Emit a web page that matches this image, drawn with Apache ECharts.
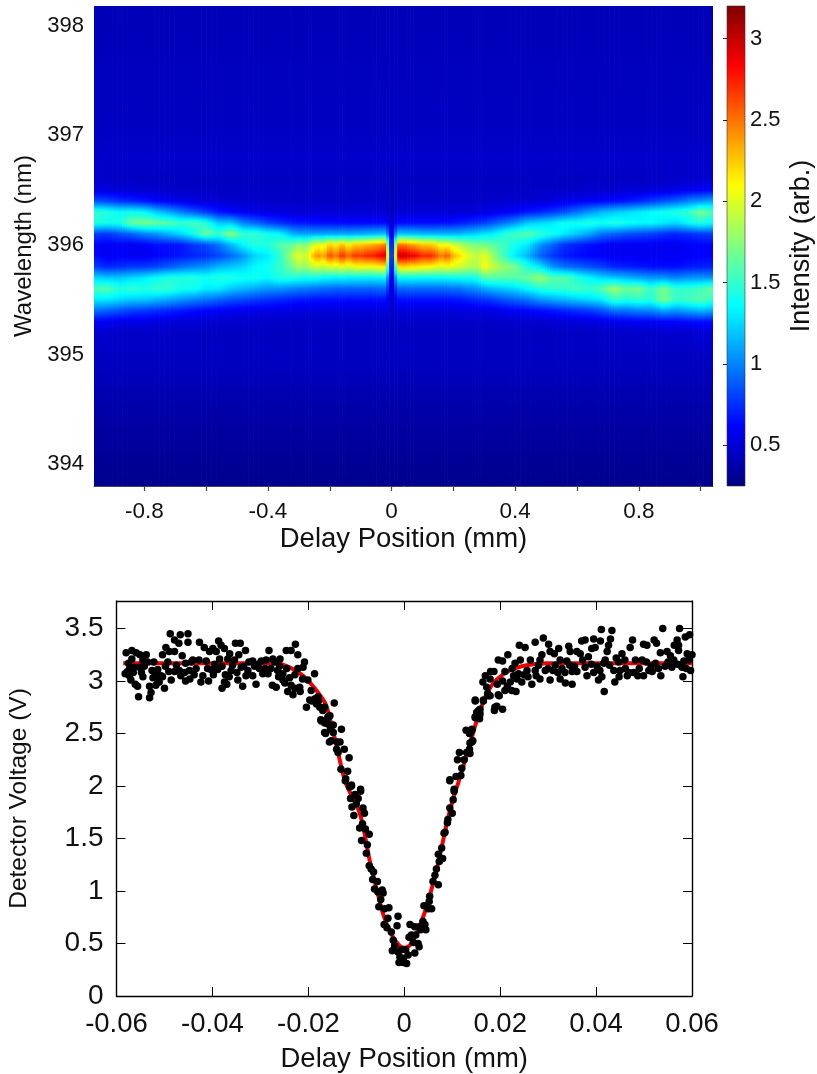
<!DOCTYPE html>
<html><head><meta charset="utf-8">
<style>html,body{margin:0;padding:0;background:#fff}#c{width:817px;height:1074px}</style>
<script src="https://cdn.jsdelivr.net/npm/echarts@6/dist/echarts.min.js"></script>
</head><body><div id="c"></div>
<script>
// ---- Top panel: spectrogram ----
const delayTicks=[-0.8,-0.6,-0.4,-0.2,0,0.2,0.4,0.6,0.8,1];
const delayLabels=[-0.8,-0.4,0,0.4,0.8];
const wavelengthTicks=[394,394.5,395,395.5,396,396.5,397,397.5,398];
const wavelengthLabels=[394,395,396,397,398];
const colorbarTicks=[0.5,1,1.5,2,2.5,3];
const colorbarRange=[0.25,3.2];
const wavelengthsBelow=[393.8,394.5,395.0];
const intensityBelow=[0.29,0.37,0.45];
const wavelengthsBand=[395.2,395.3,395.4,395.5,395.6,395.7,395.8,395.9,396.0,396.1,396.2,396.3,396.4,396.5,396.6];
const wavelengthsAbove=[396.8,397.0,398.18];
const intensityAbove=[0.47,0.45,0.41];
// each row: delay position, then the intensity at each of wavelengthsBand
const heatColumns=[
[-0.963,.48,.60,.95,1.30,1.55,1.25,.80,.65,.62,.80,1.45,1.50,.85,.55,.48],
[-0.92,.48,.58,.90,1.30,1.60,1.20,.72,.58,.58,.78,1.40,1.45,.82,.52,.46],
[-0.88,.46,.56,.85,1.25,1.45,1.20,.75,.60,.60,.85,1.42,1.38,.75,.50,.45],
[-0.84,.46,.55,.80,1.20,1.50,1.25,.78,.58,.58,.90,1.65,1.40,.72,.50,.45],
[-0.80,.46,.55,.78,1.20,1.45,1.30,.78,.58,.60,1.00,1.70,1.35,.68,.48,.45],
[-0.76,.46,.53,.75,1.15,1.50,1.38,.82,.62,.65,1.05,1.65,1.20,.62,.48,.45],
[-0.72,.45,.52,.72,1.10,1.50,1.45,.88,.65,.65,1.15,1.60,1.10,.58,.47,.44],
[-0.68,.45,.50,.68,1.05,1.40,1.45,.95,.68,.68,1.25,1.50,.98,.55,.46,.44],
[-0.64,.45,.50,.65,1.00,1.40,1.45,1.00,.72,.78,1.40,1.55,.88,.52,.46,.44],
[-0.60,.44,.50,.62,.95,1.30,1.40,1.05,.75,.82,1.65,1.45,.78,.50,.46,.44],
[-0.56,.44,.48,.60,.90,1.30,1.45,1.15,.82,.95,1.50,1.20,.68,.50,.45,.44],
[-0.52,.44,.48,.58,.85,1.20,1.45,1.20,.92,1.15,1.75,1.20,.62,.48,.45,.44],
[-0.48,.44,.48,.56,.82,1.15,1.40,1.25,1.05,1.35,1.50,1.00,.58,.47,.45,.44],
[-0.44,.44,.47,.55,.78,1.10,1.40,1.35,1.25,1.45,1.50,.92,.55,.47,.45,.44],
[-0.40,.44,.47,.55,.75,1.05,1.35,1.40,1.30,1.45,1.40,.82,.53,.46,.45,.44],
[-0.36,.44,.46,.54,.72,1.05,1.45,1.50,1.50,1.60,1.35,.75,.52,.46,.45,.44],
[-0.32,.44,.46,.53,.70,1.00,1.45,1.70,1.85,1.65,1.15,.70,.50,.46,.45,.44],
[-0.30,.44,.46,.53,.68,.98,1.42,1.85,2.05,1.80,1.10,.68,.50,.46,.45,.44],
[-0.28,.44,.46,.52,.68,.98,1.40,1.75,1.90,1.70,1.10,.68,.50,.46,.45,.44],
[-0.26,.44,.46,.52,.66,.95,1.40,1.90,2.20,1.90,1.10,.66,.50,.46,.45,.44],
[-0.24,.44,.46,.52,.66,.95,1.40,1.95,2.45,2.05,1.10,.66,.50,.46,.45,.44],
[-0.22,.44,.46,.52,.66,.92,1.35,1.90,2.30,2.00,1.10,.65,.50,.46,.45,.44],
[-0.20,.44,.46,.52,.66,.92,1.35,2.00,2.65,2.25,1.12,.65,.50,.46,.45,.44],
[-0.18,.44,.46,.52,.66,.90,1.32,1.95,2.45,2.10,1.10,.64,.50,.46,.45,.44],
[-0.16,.44,.46,.52,.65,.90,1.35,2.05,2.75,2.30,1.12,.64,.50,.46,.45,.44],
[-0.14,.44,.46,.52,.65,.90,1.32,1.95,2.50,2.10,1.10,.64,.50,.46,.45,.44],
[-0.12,.44,.46,.52,.65,.90,1.32,2.05,2.70,2.25,1.12,.64,.50,.46,.45,.44],
[-0.10,.44,.46,.52,.65,.90,1.32,2.05,2.65,2.25,1.12,.64,.50,.46,.45,.44],
[-0.08,.44,.46,.52,.65,.90,1.32,2.05,2.75,2.30,1.15,.64,.50,.46,.45,.44],
[-0.06,.44,.46,.52,.65,.90,1.32,2.05,2.75,2.35,1.15,.64,.50,.46,.45,.44],
[-0.04,.44,.46,.52,.66,.92,1.32,2.10,2.85,2.40,1.18,.64,.50,.46,.45,.44],
[-0.018,.44,.46,.52,.66,.92,1.35,2.15,2.95,2.50,1.20,.65,.50,.46,.45,.44],
[-0.008,.44,.45,.50,.55,.60,.75,1.00,1.20,1.05,.75,.55,.46,.44,.43,.43],
[0,.42,.42,.42,.42,.42,.42,.42,.42,.42,.42,.42,.42,.42,.42,.42],
[0.008,.44,.45,.50,.55,.60,.75,1.00,1.20,1.05,.75,.55,.46,.44,.43,.43],
[0.018,.44,.46,.52,.66,.92,1.35,2.15,2.95,2.50,1.20,.65,.50,.46,.45,.44],
[0.04,.44,.46,.52,.66,.92,1.35,2.20,3.00,2.50,1.20,.65,.50,.46,.45,.44],
[0.06,.44,.46,.52,.66,.92,1.35,2.15,2.90,2.40,1.18,.65,.50,.46,.45,.44],
[0.08,.44,.46,.52,.66,.92,1.35,2.15,2.85,2.35,1.18,.65,.50,.46,.45,.44],
[0.10,.44,.46,.52,.66,.92,1.35,2.10,2.70,2.25,1.15,.65,.50,.46,.45,.44],
[0.12,.44,.46,.52,.66,.92,1.35,2.10,2.75,2.25,1.15,.65,.50,.46,.45,.44],
[0.14,.44,.46,.52,.66,.92,1.35,2.05,2.65,2.20,1.15,.65,.50,.46,.45,.44],
[0.16,.44,.46,.52,.66,.92,1.35,2.00,2.45,2.05,1.15,.66,.50,.46,.45,.44],
[0.18,.44,.46,.52,.66,.92,1.35,2.05,2.60,2.10,1.15,.66,.50,.46,.45,.44],
[0.20,.44,.46,.52,.68,.95,1.38,2.00,2.30,1.95,1.15,.68,.50,.46,.45,.44],
[0.22,.44,.46,.53,.68,.95,1.38,1.95,2.20,1.90,1.15,.70,.50,.46,.45,.44],
[0.24,.44,.46,.53,.70,1.00,1.40,1.90,2.05,1.80,1.20,.72,.50,.46,.45,.44],
[0.26,.44,.46,.54,.72,1.02,1.40,1.85,1.95,1.75,1.20,.75,.52,.46,.45,.44],
[0.28,.44,.46,.54,.74,1.05,1.45,1.85,1.90,1.70,1.25,.78,.52,.47,.45,.44],
[0.30,.44,.46,.55,.76,1.10,1.60,2.10,2.05,1.70,1.30,.80,.54,.47,.45,.44],
[0.32,.44,.46,.55,.78,1.15,1.60,1.95,1.85,1.65,1.30,.85,.55,.47,.45,.44],
[0.36,.44,.47,.58,.85,1.20,1.60,1.80,1.55,1.55,1.45,.95,.58,.47,.45,.44],
[0.40,.44,.47,.60,.90,1.25,1.60,1.70,1.30,1.40,1.55,1.05,.62,.48,.45,.44],
[0.44,.44,.48,.62,.95,1.35,1.65,1.45,1.15,1.30,1.60,1.20,.68,.50,.45,.44],
[0.48,.44,.48,.65,1.05,1.45,1.80,1.30,.90,1.05,1.50,1.25,.72,.50,.46,.44],
[0.52,.44,.50,.68,1.10,1.50,1.60,1.05,.78,.90,1.40,1.30,.78,.52,.46,.44],
[0.56,.45,.50,.72,1.15,1.50,1.60,.95,.68,.75,1.30,1.40,.85,.55,.46,.44],
[0.60,.45,.52,.75,1.20,1.55,1.45,.90,.65,.70,1.20,1.40,.95,.58,.47,.44],
[0.64,.45,.53,.78,1.25,1.50,1.35,.85,.62,.65,1.10,1.45,1.05,.60,.47,.45],
[0.68,.46,.55,.85,1.30,1.60,1.25,.80,.60,.62,.95,1.40,1.15,.62,.48,.45],
[0.72,.46,.56,.95,1.50,1.80,1.20,.72,.58,.58,.90,1.45,1.20,.65,.48,.45],
[0.76,.46,.58,.95,1.45,1.65,1.15,.70,.58,.58,.85,1.40,1.25,.68,.50,.45],
[0.80,.47,.60,1.00,1.50,1.70,1.10,.68,.58,.58,.82,1.35,1.30,.72,.50,.45],
[0.84,.47,.60,1.00,1.45,1.50,1.05,.65,.58,.58,.80,1.35,1.35,.78,.52,.45],
[0.88,.48,.62,1.10,1.70,1.70,1.05,.65,.58,.58,.75,1.30,1.40,.85,.52,.46],
[0.92,.48,.62,1.05,1.50,1.50,1.00,.65,.58,.58,.72,1.25,1.45,.90,.55,.46],
[0.96,.48,.65,1.10,1.55,1.50,1.05,.68,.60,.60,.75,1.35,1.50,1.00,.58,.47],
[1.00,.50,.65,1.15,1.60,1.55,1.05,.70,.62,.62,.78,1.45,1.70,1.05,.60,.48],
[1.04,.50,.65,1.10,1.50,1.65,1.05,.70,.62,.62,.80,1.35,1.55,1.10,.62,.48]
];

// ---- Bottom panel: detector trace ----
const fitDelay=[-0.0586,-0.04,-0.0267,-0.0239,-0.0211,-0.0183,-0.0163,-0.0143,-0.0123,-0.0096,-0.0086,-0.0072,-0.0055,-0.0044,-0.0027,-0.001,0,0.0011,0.0025,0.0043,0.0057,0.0071,0.0081,0.0091,0.0102,0.0114,0.0137,0.0151,0.0172,0.0192,0.022,0.0255,0.0297,0.04,0.06];
const fitVoltage=[3.17,3.17,3.17,3.13,3.05,2.91,2.77,2.42,2.04,1.78,1.62,1.29,0.97,0.78,0.59,0.48,0.46,0.48,0.59,0.80,1.02,1.27,1.48,1.69,1.88,2.05,2.40,2.62,2.88,3.01,3.10,3.15,3.17,3.17,3.17];
const plateauLeft=[[-.058,3.27],[-.0568,3.29],[-.0559,3.27],[-.0551,3.25],[-.0538,3.25],[-.0545,3.2],[-.0535,3.18],[-.0568,3.21],[-.0582,3.07],[-.0577,3.09],[-.0572,3.13],[-.0563,3.13],[-.0552,3.13],[-.0573,3.05],[-.057,3.01],[-.0561,2.97],[-.0556,2.95],[-.0554,2.85],[-.0545,3.04],[-.0531,2.95],[-.0528,2.89],[-.0531,2.84],[-.0522,3.18],[-.0526,3.1],[-.0514,3.11],[-.0518,3.05],[-.0507,3.05],[-.0514,3.01],[-.0511,2.99],[-.0518,2.96],[-.05,2.93],[-.0504,3.04],[-.0486,3.01],[-.0491,3.09],[-.0479,3.09],[-.0469,3.1],[-.0458,3.08],[-.0463,3.24],[-.0451,3.37],[-.0488,3.45],[-.0467,3.44],[-.0451,3.45],[-.0479,3.39],[-.047,3.36],[-.0497,3.32],[-.0504,3.25],[-.049,3.28],[-.0479,3.28],[-.0456,3.17],[-.0444,3.18],[-.0434,3.12],[-.0441,3.2],[-.0428,3.2],[-.0413,3.19],[-.0427,3.37],[-.0417,3.32],[-.0406,3.28],[-.0399,3.31],[-.0387,3.38],[-.0382,3.34],[-.0392,3.28],[-.0375,3.31],[-.0364,3.26],[-.0368,3.21],[-.0352,3.36],[-.0342,3.36],[-.0331,3.29],[-.0345,3.25],[-.0354,3.2],[-.0361,3.1],[-.0373,3.06],[-.0375,2.99],[-.037,2.97],[-.038,2.93],[-.0403,3.11],[-.0389,3.11],[-.042,3.05],[-.0424,2.99],[-.0408,3],[-.0456,3],[-.0447,3.02],[-.0347,3.01],[-.0337,2.95],[-.034,3.13],[-.0326,3.1],[-.0316,3.19],[-.0324,3.18],[-.0316,3.05],[-.0302,3.12],[-.0309,2.97],[-.0295,3.07],[-.0284,3.07],[-.0282,3.29],[-.0288,3.2],[-.0274,3.21],[-.0259,3.21],[-.027,3.18],[-.0264,3.1],[-.0253,3.07],[-.0239,3.03],[-.0275,2.96],[-.0267,2.94],[-.0253,3.01],[-.0236,2.96],[-.0232,2.87],[-.0243,2.9],[-.0218,2.94],[-.0217,2.9],[-.0236,3.29],[-.0227,3.35],[-.0246,3.29],[-.0222,3.25],[-.0208,3.18],[-.0211,3.13],[-.0222,3.12],[-.0187,3.07],[-.0201,3.01],[-.0194,2.91],[-.018,2.85],[-.0204,2.75],[-.0197,2.82],[-.0183,2.78],[-.017,2.72],[-.0159,2.66],[-.0173,2.62],[-.0164,2.5],[-.0156,2.42],[-.0575,3.17],[-.0548,3.08],[-.0498,3.14],[-.0475,3.15],[-.0448,3.1],[-.0395,3.16],[-.038,3.14],[-.0358,3.15],[-.0335,3.14],[-.0305,3.16],[-.029,3.12],[-.026,3.14],[-.0245,3.12],[-.0228,3.06],[-.0212,3.02],[-.0565,3.08],[-.0542,3.14],[-.0524,3.03],[-.0493,3.18],[-.0466,3.05],[-.0438,3.06],[-.041,3.12],[-.0398,3.06],[-.0385,3.21],[-.0365,3.04],[-.0349,3.08],[-.033,3.05],[-.0312,3.14],[-.0298,3.19],[-.0278,3.12],[-.0262,3.04],[-.0249,2.98],[-.0228,2.93]];
const slopeLeft=[[-.0193,2.81],[-.0186,2.83],[-.0179,2.81],[-.0176,2.75],[-.0166,2.75],[-.0146,2.79],[-.0155,2.67],[-.0159,2.65],[-.0174,2.63],[-.0166,2.6],[-.0159,2.59],[-.0148,2.58],[-.0154,2.54],[-.0131,2.54],[-.0166,2.51],[-.0148,2.51],[-.0152,2.43],[-.014,2.42],[-.0134,2.42],[-.0141,2.35],[-.0125,2.35],[-.0138,2.32],[-.0115,2.27],[-.0132,2.16],[-.0118,2.14],[-.0122,2.07],[-.011,2],[-.0091,1.97]];
const bottomDip=[[-.0123,2.05],[-.011,2.01],[-.0114,1.99],[-.0091,1.95],[-.0103,1.92],[-.0112,1.88],[-.0096,1.88],[-.01,1.83],[-.0109,1.8],[-.0086,1.79],[-.0105,1.72],[-.0083,1.74],[-.0087,1.64],[-.0093,1.6],[-.0081,1.59],[-.0073,1.54],[-.0089,1.48],[-.0077,1.44],[-.0079,1.36],[-.0073,1.24],[-.0069,1.21],[-.0064,1.18],[-.0066,1.11],[-.0056,1.09],[-.0062,1.02],[-.0055,.99],[-.0046,1.01],[-.0044,.98],[-.0049,.92],[-.0053,.85],[-.0041,.83],[-.0032,.84],[-.0034,.74],[-.0013,.76],[-.0015,.67],[-.0042,.68],[-.0036,.65],[-.0027,.61],[-.0023,.53],[-.002,.48],[-.0025,.43],[-.0013,.42],[-.0006,.44],[.0003,.44],[-.0009,.37],[-.0002,.36],[.0008,.39],[-.0011,.32],[.0005,.31],[-.0002,.32],[.0022,.41],[.0029,.5],[.0031,.47],[.0019,.51],[.0012,.68],[.0022,.66],[.0031,.66],[.001,.56],[.0015,.58],[.0024,.58],[.0034,.63],[.0045,.63],[.0039,.71],[.0043,.68],[.0041,.86],[.0053,.95],[.0052,.9],[.0057,.83],[.005,.83],[.0071,1.06],[.006,1.09],[.0064,1.15],[.0067,1.21],[.0073,1.28],[.008,1.31],[.0071,1.35],[.0078,1.41],[.0083,1.55],[.0085,1.56],[.009,1.65],[.0091,1.68],[.0095,1.79],[.01,1.74],[.0102,1.87],[.0104,1.95],[.0095,2.05]];
const slopeRight=[[.0174,2.88],[.0148,2.82],[.0165,2.82],[.0179,2.86],[.0196,2.87],[.0189,2.75],[.0158,2.73],[.0151,2.68],[.0157,2.67],[.0148,2.65],[.0129,2.53],[.0141,2.54],[.0136,2.5],[.0143,2.43],[.0137,2.41],[.0136,2.35],[.013,2.32],[.0115,2.32],[.0125,2.25],[.0111,2.25],[.012,2.17],[.0118,2.1],[.0108,2.09],[.0095,2.06],[.0104,1.97]];
const plateauRight=[[.0137,2.31],[.0141,2.42],[.0137,2.5],[.0141,2.53],[.0148,2.66],[.0157,2.64],[.0151,2.7],[.0158,2.69],[.0155,2.72],[.0148,2.81],[.0165,2.81],[.0175,2.86],[.0188,2.72],[.0193,2.76],[.0205,2.73],[.0198,2.86],[.0172,2.94],[.0164,2.99],[.0169,3.05],[.018,3.09],[.0187,3.09],[.0179,3.02],[.0194,2.97],[.021,3.09],[.0196,3.2],[.0205,3.19],[.0216,3.25],[.021,2.91],[.0224,2.91],[.0233,2.9],[.0221,2.99],[.0228,3.05],[.0238,3.07],[.0231,3.17],[.0242,3.2],[.0252,3.32],[.024,3.34],[.0245,2.99],[.0266,2.97],[.0256,3.1],[.0263,3.2],[.0273,3.37],[.0273,3.1],[.0283,3.02],[.0287,3.25],[.029,3.41],[.0283,3.2],[.0294,3.1],[.0304,3.01],[.0301,3.35],[.0304,3.28],[.0313,3.26],[.0322,3.31],[.0315,3.15],[.0325,3.2],[.0339,3.19],[.0325,3.02],[.0336,2.98],[.035,2.97],[.0329,3.12],[.0343,3.33],[.0346,3.28],[.036,3.28],[.0367,3.26],[.037,3.38],[.0377,3.39],[.035,3.09],[.036,3.09],[.0381,3.05],[.0377,3.13],[.0391,3.31],[.0395,3.4],[.0398,3.32],[.0409,3.38],[.0384,3.23],[.0402,3.14],[.0395,3.08],[.0412,3.04],[.0405,3.01],[.0417,2.9],[.0411,3.49],[.0433,3.48],[.043,3.4],[.0426,3.34],[.0423,3.28],[.0419,3.2],[.0416,3.17],[.0437,3.1],[.0447,3.18],[.0454,3.26],[.0439,2.99],[.0448,3.04],[.0461,3.12],[.0468,3.08],[.0471,3.32],[.0476,3.39],[.0482,3.2],[.0496,3.2],[.0478,3.08],[.0499,3.05],[.0499,3.35],[.0506,3.34],[.0521,3.39],[.0526,3.36],[.0517,3.09],[.0524,3.17],[.0534,3.27],[.0539,3.5],[.0574,3.5],[.0569,3.39],[.0563,3.34],[.0572,3.34],[.0586,3.42],[.0595,3.44],[.0548,3.28],[.0555,3.24],[.0544,3.14],[.0562,3.2],[.0572,3.29],[.0579,3.13],[.0581,3.04],[.059,3.26],[.0597,3.1],[.06,3.25],[.0593,3.2],[.0583,3.19],[.028,3.15],[.03,3.12],[.0335,3.08],[.0355,3.14],[.045,3.1],[.049,3.12],[.051,3.1],[.053,3.12],[.046,3.2],[.055,3.18],[.032,3.08],[.025,3.06],[.0225,3.12],[.0205,3.0],[.0215,2.95],[.0235,3.02],[.0258,3.04],[.0275,3.05],[.031,3.1],[.0345,3.15],[.0372,3.2],[.039,3.16],[.0408,3.1],[.0428,3.15],[.0442,3.22],[.0465,3.05],[.0487,3.05],[.0505,3.18],[.0515,3.14],[.0535,3.05],[.0558,3.13],[.057,3.16],[.0588,3.12]];

const wavelengths=[...wavelengthsBelow,...wavelengthsBand,...wavelengthsAbove];
function jet(v){
  const t=Math.min(1,Math.max(0,(v-colorbarRange[0])/(colorbarRange[1]-colorbarRange[0])));
  const c=k=>Math.round(255*Math.min(1,Math.max(0,1.5-Math.abs(4*t-k))));
  return 'rgb('+c(3)+','+c(2)+','+c(1)+')';
}
function profileStops(profile,wlTop,wlBottom){
  const stops=[], span=wlTop-wlBottom;
  for(let j=wavelengths.length-1;j>=0;j--){
    const n=j>0?4:1;
    for(let k=0;k<n;k++){
      const f=k/n, w=wavelengths[j]+(j>0?(wavelengths[j-1]-wavelengths[j])*f:0);
      const v=profile[j]+(j>0?(profile[j-1]-profile[j])*f:0);
      stops.push({offset:Math.min(1,Math.max(0,(wlTop-w)/span)),color:jet(v)});
    }
  }
  return stops;
}
const fullProfile=r=>[...intensityBelow,...r.slice(1),...intensityAbove];
const WL_MIN=wavelengths[0], WL_MAX=wavelengths[wavelengths.length-1];

function renderHeat(params,api){
  const i=params.dataIndex;
  const a=heatColumns[i], b=heatColumns[Math.min(i+1,heatColumns.length-1)];
  const pa=fullProfile(a), pb=fullProfile(b);
  const x0=api.coord([a[0],WL_MAX])[0], x1=api.coord([b[0],WL_MAX])[0];
  const yT=api.coord([a[0],WL_MAX])[1], yB=api.coord([a[0],WL_MIN])[1];
  const n=Math.max(1,Math.round((x1-x0)/2.5)), children=[];
  for(let s=0;s<n;s++){
    const f=(s+0.5)/n, p=pa.map((v,j)=>v+(pb[j]-v)*f);
    const xa=x0+(x1-x0)*s/n, xb=x0+(x1-x0)*(s+1)/n;
    children.push({type:'rect',shape:{x:xa,y:yT,width:xb-xa+0.7,height:yB-yT},silent:true,
      style:{fill:new echarts.graphic.LinearGradient(0,0,0,1,profileStops(p,WL_MAX,WL_MIN))}});
  }
  return {type:'group',children};
}
function renderBar(params,api){
  const t=api.coord([0,colorbarRange[1]]), b=api.coord([1,colorbarRange[0]]);
  const stops=[];
  for(let k=0;k<=40;k++){stops.push({offset:k/40,color:jet(colorbarRange[1]-(colorbarRange[1]-colorbarRange[0])*k/40)});}
  return {type:'rect',shape:{x:t[0],y:t[1],width:b[0]-t[0],height:b[1]-t[1]},
    style:{fill:new echarts.graphic.LinearGradient(0,0,0,1,stops),stroke:'#333',lineWidth:0.6}};
}
const FONT='"Liberation Sans",Arial,sans-serif', INK='#111';
const hide={show:false};
const chart=echarts.init(document.getElementById('c'),null,{renderer:'canvas'});
chart.setOption({
  animation:false,backgroundColor:'#fff',
  textStyle:{fontFamily:FONT,color:INK},
  grid:[
    {left:94,top:6,width:619,height:480,outerBoundsMode:'none'},
    {left:727,top:6,width:18,height:480,outerBoundsMode:'none'},
    {left:116.5,top:601,width:575.5,height:395,outerBoundsMode:'none'}
  ],
  xAxis:[
    {gridIndex:0,type:'value',min:-0.963,max:1.04,
     name:'Delay Position (mm)',nameLocation:'middle',nameGap:39,nameTextStyle:{fontSize:27.5,color:INK,fontFamily:FONT},
     axisLine:{show:true,lineStyle:{color:'#445',width:1}},
     axisTick:{show:true,length:5,lineStyle:{color:'#444',width:1.2},customValues:delayTicks},
     axisLabel:{fontSize:22.5,color:INK,margin:14,fontFamily:FONT,customValues:delayLabels,formatter:v=>String(v)},splitLine:hide},
    {gridIndex:1,type:'value',min:0,max:1,show:false},
    {gridIndex:2,type:'value',min:-0.06,max:0.06,interval:0.02,
     name:'Delay Position (mm)',nameLocation:'middle',nameGap:49,nameTextStyle:{fontSize:27.5,color:INK,fontFamily:FONT},
     axisLine:{show:true,onZero:false,lineStyle:{color:'#000',width:1.4}},
     axisTick:{show:true,inside:true,length:9,lineStyle:{color:'#000',width:1}},
     axisLabel:{fontSize:27.5,color:INK,margin:14,fontFamily:FONT,showMinLabel:true,showMaxLabel:true},splitLine:hide},
    {gridIndex:2,type:'value',position:'top',min:-0.06,max:0.06,interval:0.02,
     axisLine:{show:true,onZero:false,lineStyle:{color:'#000',width:1.4}},
     axisTick:{show:true,inside:true,length:9,lineStyle:{color:'#000',width:1}},
     axisLabel:hide,splitLine:hide}
  ],
  yAxis:[
    {gridIndex:0,type:'value',min:393.8,max:398.18,
     name:'Wavelength (nm)',nameLocation:'middle',nameGap:55,nameRotate:90,nameTextStyle:{fontSize:24,color:INK,fontFamily:FONT},
     axisLine:{show:false},
     axisTick:{show:true,length:6,lineStyle:{color:'#444',width:1.2},customValues:wavelengthTicks},
     axisLabel:{fontSize:22,color:INK,margin:10,fontFamily:FONT,customValues:wavelengthLabels,formatter:v=>String(v)},splitLine:hide},
    {gridIndex:1,type:'value',position:'right',min:colorbarRange[0],max:colorbarRange[1],
     name:'Intensity (arb.)',nameLocation:'middle',nameGap:43,nameRotate:90,nameTextStyle:{fontSize:27,color:INK,fontFamily:FONT},
     axisLine:{show:false},
     axisTick:{show:true,inside:true,length:4,lineStyle:{color:'#222',width:1},customValues:colorbarTicks},
     axisLabel:{fontSize:22,color:INK,margin:5,fontFamily:FONT,customValues:colorbarTicks,formatter:v=>String(v)},splitLine:hide},
    {gridIndex:1,type:'value',position:'left',min:colorbarRange[0],max:colorbarRange[1],
     axisLine:{show:false},
     axisTick:{show:true,inside:true,length:4,lineStyle:{color:'#222',width:1},customValues:colorbarTicks},
     axisLabel:hide,splitLine:hide},
    {gridIndex:2,type:'value',min:0,max:3.762,interval:0.5,
     name:'Detector Voltage (V)',nameLocation:'middle',nameGap:85,nameRotate:90,nameTextStyle:{fontSize:24.5,color:INK,fontFamily:FONT},
     axisLine:{show:true,onZero:false,lineStyle:{color:'#000',width:1.4}},
     axisTick:{show:true,inside:true,length:9,lineStyle:{color:'#000',width:1}},
     axisLabel:{fontSize:28,color:INK,margin:13,fontFamily:FONT,showMaxLabel:false},splitLine:hide},
    {gridIndex:2,type:'value',position:'right',min:0,max:3.762,interval:0.5,
     axisLine:{show:true,onZero:false,lineStyle:{color:'#000',width:1.4}},
     axisTick:{show:true,inside:true,length:9,lineStyle:{color:'#000',width:1}},
     axisLabel:hide,splitLine:hide}
  ],
  series:[
    {type:'custom',name:'Spectrogram',xAxisIndex:0,yAxisIndex:0,clip:true,silent:true,
     renderItem:renderHeat,encode:{x:0},data:heatColumns.map(r=>[r[0]])},
    {type:'custom',name:'Colorbar',xAxisIndex:1,yAxisIndex:1,silent:true,
     renderItem:renderBar,data:[[0]]},
    {type:'line',name:'Fit',xAxisIndex:2,yAxisIndex:3,z:3,smooth:0.25,showSymbol:false,symbol:'none',
     lineStyle:{color:'#f00000',width:4},data:fitDelay.map((x,i)=>[x,fitVoltage[i]])},
    {type:'scatter',name:'Detector',xAxisIndex:2,yAxisIndex:3,z:4,symbolSize:7.5,itemStyle:{color:'#000',opacity:1},
     data:[...plateauLeft,...slopeLeft,...bottomDip,...slopeRight,...plateauRight]}
  ]
});
</script></body></html>
